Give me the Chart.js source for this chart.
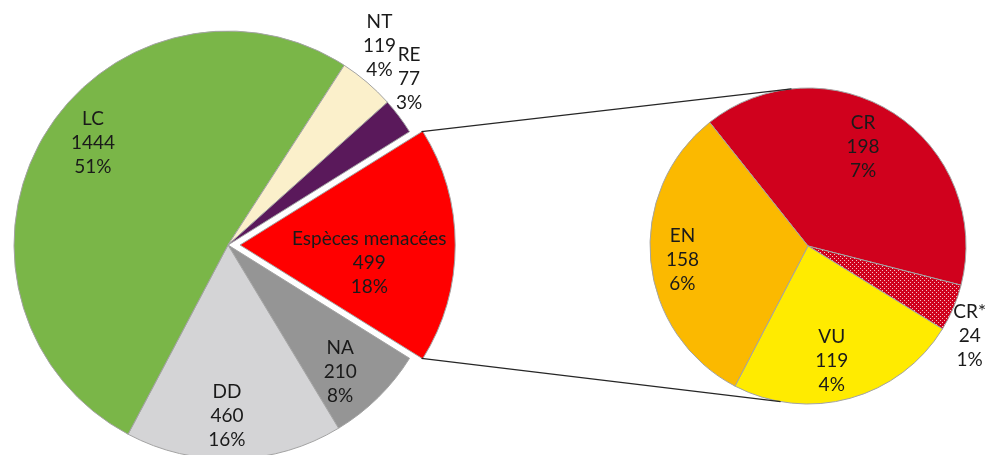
<!DOCTYPE html>
<html>
<head>
<meta charset="utf-8">
<script src="https://cdn.jsdelivr.net/npm/chart.js@4.4.1/dist/chart.umd.min.js"></script>
<style>
  html, body { margin: 0; padding: 0; background: #fff; overflow: hidden; }
  #wrap { position: relative; width: 990px; height: 455px; }
  canvas { position: absolute; left: 0; top: 0; }
</style>
</head>
<body>
<div id="wrap">
  <canvas id="main" width="990" height="455"></canvas>
  <canvas id="detail" width="990" height="455"></canvas>
</div>
<script>
// main pie (counted from the exploded slice, clockwise)
const mainLabels = ['Espèces menacées', 'NA', 'DD', 'LC', 'NT', 'RE'];
const mainValues = [499, 210, 460, 1444, 119, 77];
const mainPct = ['18%', '8%', '16%', '51%', '4%', '3%'];

// detail pie of the threatened species
const detailLabels = ['CR', 'CR*', 'VU', 'EN'];
const detailValues = [198, 24, 119, 158];
const detailPct = ['7%', '1%', '4%', '6%'];

const FONT = '19px Lato';
const LINE_H = 24;

let dotPattern = function(bg) {
  const c = document.createElement('canvas');
  c.width = 4; c.height = 4;
  const g = c.getContext('2d');
  g.fillStyle = bg;
  g.fillRect(0, 0, 4, 4);
  g.fillStyle = 'rgba(255,255,255,0.75)';
  g.fillRect(0, 0, 1, 1);
  g.fillRect(2, 2, 1, 1);
  return g.createPattern(c, 'repeat');
};

// [radius factor, angle shift in degrees] for each label
const mainPlace = [[0.61, 8], [0.79, 3], [0.80, 2], [0.79, 6.6], [1.17, -3.3], [1.15, -5.7]];
const detailPlace = [[0.72, -4], [1.17, 6], [0.74, 3.7], [0.80, -1]];

const sliceLabels = {
  id: 'sliceLabels',
  afterDatasetsDraw(chart, args, opts) {
    const ctx = chart.ctx;
    const meta = chart.getDatasetMeta(0);
    ctx.save();
    ctx.font = FONT;
    ctx.fillStyle = '#1a1a1a';
    ctx.textAlign = 'center';
    ctx.textBaseline = 'middle';
    meta.data.forEach((arc, i) => {
      const off = (arc.options.offset || 0) / 4;
      const mid = (arc.startAngle + arc.endAngle) / 2;
      const cx = arc.x + Math.cos(mid) * off;
      const cy = arc.y + Math.sin(mid) * off;
      const [f, shift] = opts.place[i];
      const a = mid + shift * Math.PI / 180;
      const x = cx + Math.cos(a) * arc.outerRadius * f;
      const y = cy + Math.sin(a) * arc.outerRadius * f;
      const lines = [opts.labels[i], String(opts.values[i]), opts.pct[i]];
      lines.forEach((t, k) => ctx.fillText(t, x, y + (k - 1) * LINE_H));
    });
    ctx.restore();
  }
};

const baseOptions = {
  responsive: false,
  animation: false,
  events: [],
  plugins: { legend: { display: false }, tooltip: { enabled: false } }
};

const mainChart = new Chart(document.getElementById('main'), {
  type: 'pie',
  data: {
    labels: mainLabels,
    datasets: [{
      data: mainValues,
      backgroundColor: ['#ff0000', '#959595', '#d4d4d6', '#7ab648', '#fbf0cb', '#5a195b'],
      borderColor: '#a3a3a3',
      borderWidth: 1,
      offset: [48, 0, 0, 0, 0, 0]
    }]
  },
  options: Object.assign({}, baseOptions, {
    rotation: 90 - (mainValues[0] / mainValues.reduce((s, v) => s + v, 0)) * 180,
    radius: 214,
    layout: { padding: { left: 0, right: 534, top: 35, bottom: 0 } },
    plugins: Object.assign({}, baseOptions.plugins, {
      sliceLabels: { place: mainPlace, labels: mainLabels, values: mainValues, pct: mainPct }
    })
  }),
  plugins: [sliceLabels]
});

const connectors = {
  id: 'connectors',
  afterDraw(chart) {
    const red = mainChart.getDatasetMeta(0).data[0];
    const off = (red.options.offset || 0) / 4;
    const mid = (red.startAngle + red.endAngle) / 2;
    const cx = red.x + Math.cos(mid) * off;
    const cy = red.y + Math.sin(mid) * off;
    const R = red.outerRadius;
    const d = chart.getDatasetMeta(0).data[0];
    const r2 = d.outerRadius;
    const top2 = -96 * Math.PI / 180, bot2 = 100 * Math.PI / 180;
    const ctx = chart.ctx;
    ctx.save();
    ctx.strokeStyle = '#262626';
    ctx.lineWidth = 1.2;
    ctx.beginPath();
    ctx.moveTo(cx + Math.cos(red.startAngle) * R, cy + Math.sin(red.startAngle) * R);
    ctx.lineTo(d.x + Math.cos(top2) * r2, d.y + Math.sin(top2) * r2);
    ctx.moveTo(cx + Math.cos(red.endAngle) * R, cy + Math.sin(red.endAngle) * R);
    ctx.lineTo(d.x + Math.cos(bot2) * r2, d.y + Math.sin(bot2) * r2);
    ctx.stroke();
    ctx.restore();
  }
};

const detailChart = new Chart(document.getElementById('detail'), {
  type: 'pie',
  data: {
    labels: detailLabels,
    datasets: [{
      data: detailValues,
      backgroundColor: ['#d0011d', dotPattern('#d0011d'), '#ffeb00', '#fbb900'],
      borderColor: '#a3a3a3',
      borderWidth: 1
    }]
  },
  options: Object.assign({}, baseOptions, {
    rotation: -38.5,
    radius: 158,
    layout: { padding: { left: 650, right: 24, top: 37, bottom: 0 } },
    plugins: Object.assign({}, baseOptions.plugins, {
      sliceLabels: { place: detailPlace, labels: detailLabels, values: detailValues, pct: detailPct }
    })
  }),
  plugins: [sliceLabels, connectors]
});
</script>
</body>
</html>
